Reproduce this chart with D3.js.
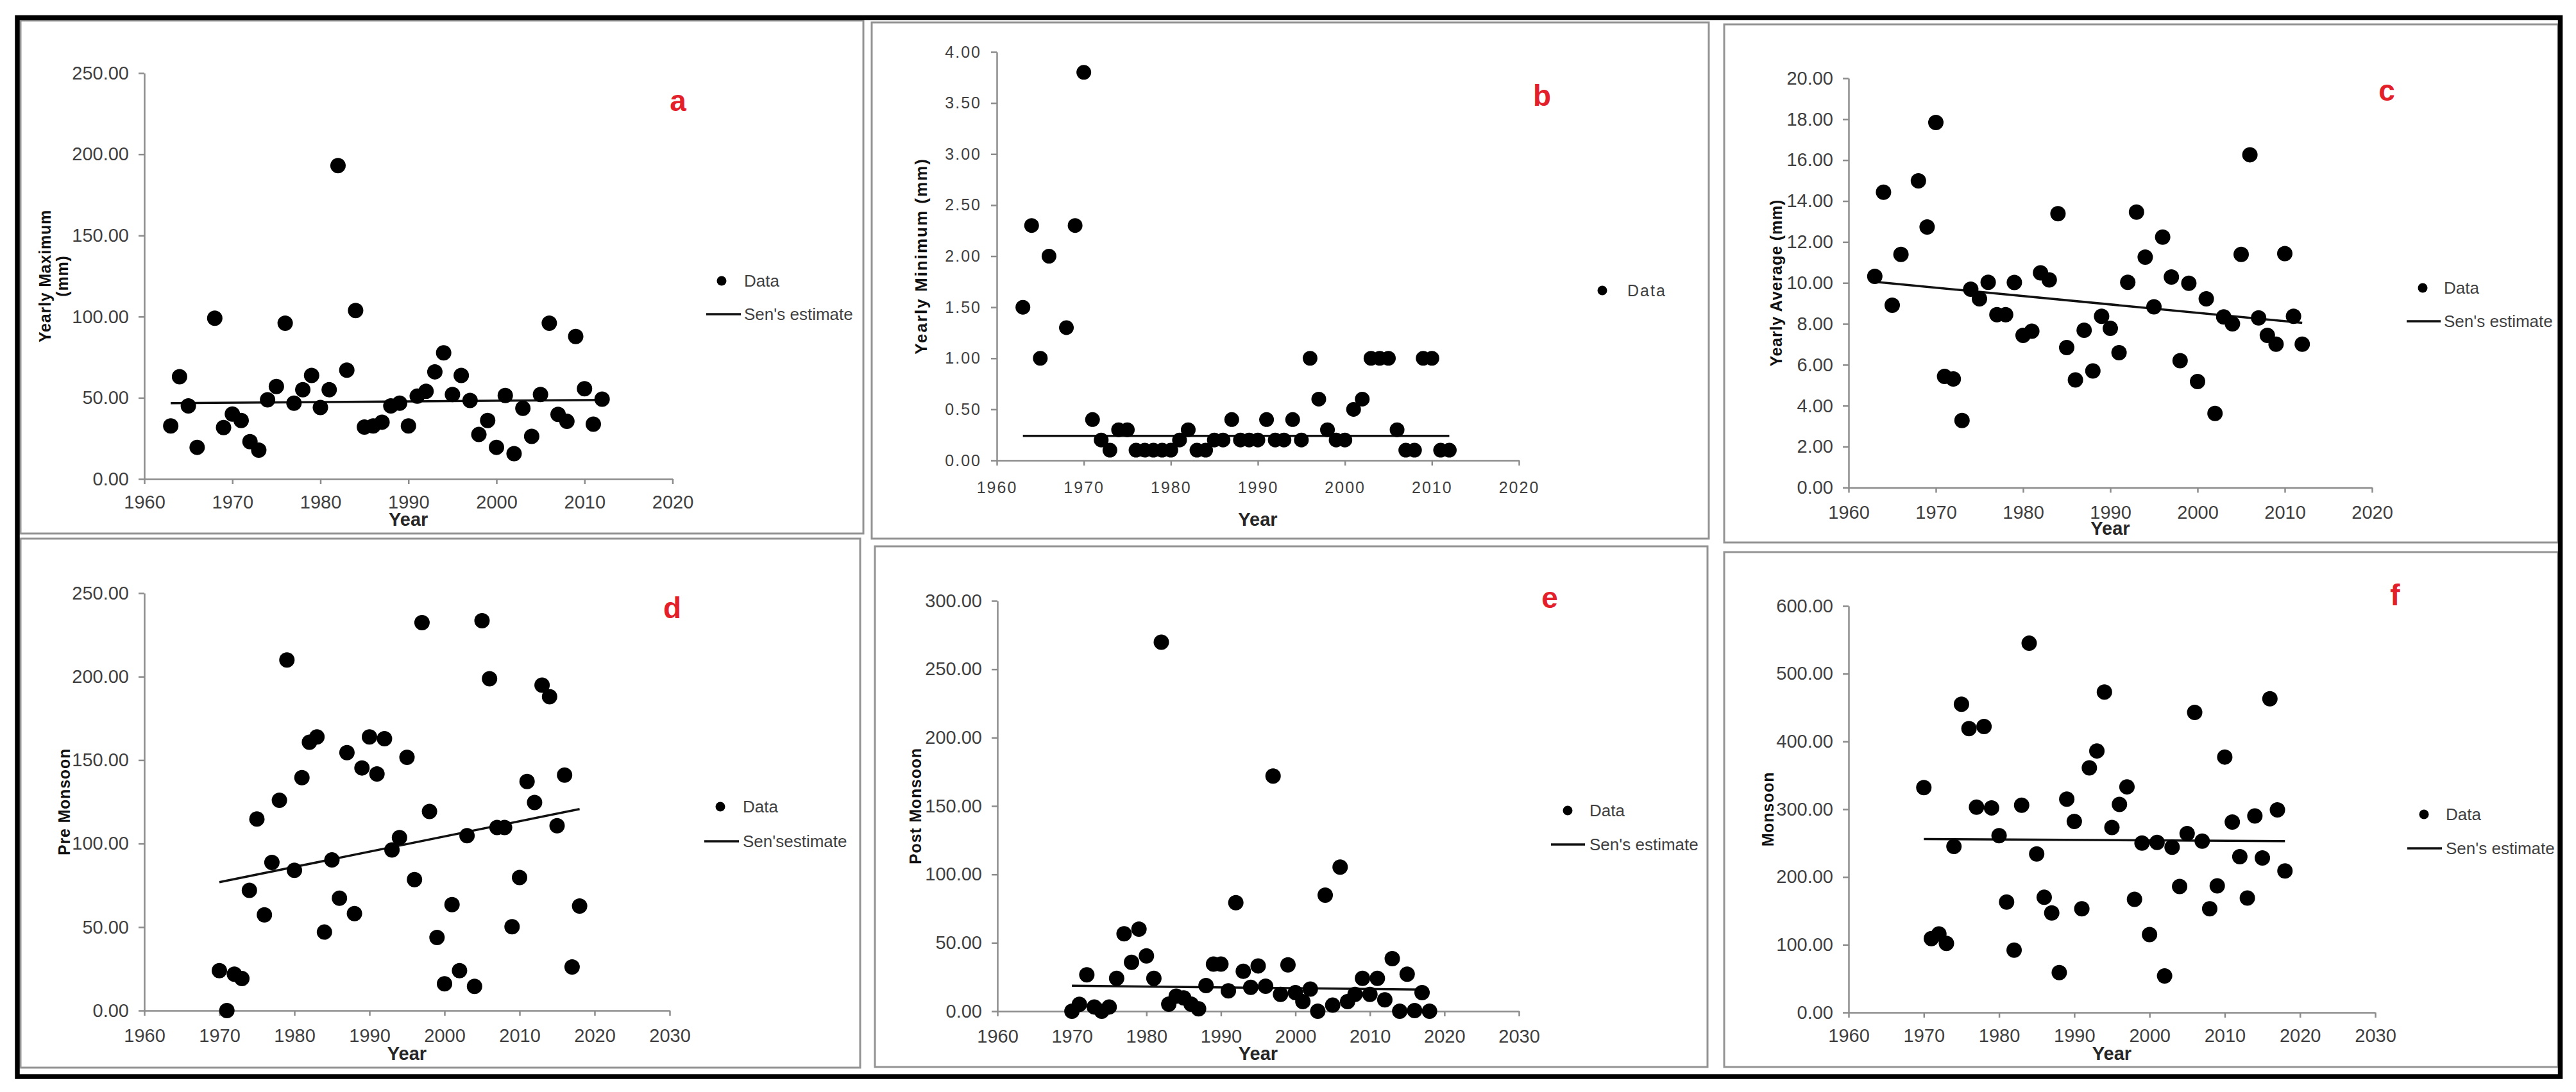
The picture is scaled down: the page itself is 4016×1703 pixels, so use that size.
<!DOCTYPE html>
<html lang="en">
<head>
  <meta charset="UTF-8">
  <title>Rainfall trend panels</title>
  <script src="https://d3js.org/d3.v7.min.js"></script>
  <style>
    * {
      margin: 0;
      padding: 0;
      box-sizing: border-box;
    }
    body {
      background: #fff;
    }
  </style>
</head>
<body>
  <div id="chart"></div>

  <script>
    // record years (1967 is missing in the daily series)
    const yearsDaily = [1963, 1964, 1965, 1966, 1968, 1969, 1970, 1971, 1972, 1973, 1974, 1975, 1976, 1977,
      1978, 1979, 1980, 1981, 1982, 1983, 1984, 1985, 1986, 1987, 1988, 1989, 1990, 1991, 1992, 1993,
      1994, 1995, 1996, 1997, 1998, 1999, 2000, 2001, 2002, 2003, 2004, 2005, 2006, 2007, 2008, 2009,
      2010, 2011, 2012];
    const yearsSeason = [1970, 1971, 1972, 1973, 1974, 1975, 1976, 1977, 1978, 1979, 1980, 1981, 1982,
      1983, 1984, 1985, 1986, 1987, 1988, 1989, 1990, 1991, 1992, 1993, 1994, 1995, 1996, 1997, 1998,
      1999, 2000, 2001, 2002, 2003, 2004, 2005, 2006, 2007, 2008, 2009, 2010, 2011, 2012, 2013, 2014,
      2015, 2016, 2017, 2018];

    const yearlyMax = [32.7, 63, 45, 19.5, 99, 31.7, 40, 36, 23, 17.8, 48.8, 57, 96, 46.7, 55, 63.8, 44, 55,
      193, 67, 103.8, 32, 32.7, 35, 45, 46.7, 32.7, 51, 54, 66, 77.7, 52, 63.8, 48.4, 27.4, 36, 19.5, 51.4,
      15.6, 43.5, 26.3, 52, 96, 39.8, 35.5, 87.8, 55.6, 33.8, 49.2];
    const yearlyMin = [1.5, 2.3, 1.0, 2.0, 1.3, 2.3, 3.8, 0.4, 0.2, 0.1, 0.3, 0.3, 0.1, 0.1, 0.1, 0.1, 0.1,
      0.2, 0.3, 0.1, 0.1, 0.2, 0.2, 0.4, 0.2, 0.2, 0.2, 0.4, 0.2, 0.2, 0.4, 0.2, 1.0, 0.6, 0.3, 0.2, 0.2,
      0.5, 0.6, 1.0, 1.0, 1.0, 0.3, 0.1, 0.1, 1.0, 1.0, 0.1, 0.1];
    const yearlyAvg = [10.32, 14.43, 8.91, 11.39, 14.99, 12.73, 17.84, 5.43, 5.31, 3.28, 9.69, 9.22, 10.03,
      8.45, 8.45, 10.02, 7.44, 7.64, 10.49, 10.15, 13.38, 6.84, 5.26, 7.69, 5.70, 8.37, 7.78, 6.59, 10.03,
      13.46, 11.26, 8.83, 12.24, 10.29, 6.20, 9.98, 5.18, 9.22, 3.62, 8.34, 8.0, 11.39, 16.26, 8.29, 7.44,
      7.01, 11.43, 8.37, 7.01];
    const preMonsoon = [23.9, 0, 21.8, 19.2, 72, 114.7, 57.3, 88.7, 126, 210, 84, 139.5, 160.7, 163.9, 47,
      90.2, 67.3, 154.5, 58.1, 145.3, 163.9, 141.7, 162.8, 96.2, 103.6, 151.7, 78.4, 232.3, 119.2, 43.8, 16,
      63.5, 23.9, 104.7, 14.5, 233.5, 198.7, 109.6, 109.6, 50.2, 79.7, 137.2, 124.6, 194.9, 188, 110.7, 141,
      26.1, 62.6];
    const postMonsoon = [0, 5, 26.6, 3.1, 0, 3.1, 24, 56.6, 35.7, 60, 40.4, 24, 269.8, 5.2, 11, 9.7, 5.2, 1.8,
      18.8, 34.4, 34.4, 14.9, 79.3, 29.2, 17.5, 33.1, 18.3, 171.9, 12.3, 33.9, 13.6, 7, 16.2, 0, 84.8, 4.4,
      105.4, 7, 12.3, 24, 12.3, 24, 8.3, 38.4, 0, 27.1, 0.5, 13.6, 0];
    const monsoon = [332, 109, 116, 102, 245, 455, 419, 303, 422, 302, 261, 163, 92, 306, 545, 234, 170, 147,
      59, 315, 282, 153, 361, 386, 473, 273, 307, 333, 167, 250, 115, 251, 54, 244, 186, 264, 443, 253, 153,
      187, 377, 281, 230, 169, 290, 228, 463, 299, 209];

    // Sen's estimate: start and end values of the fitted line
    const senYearsDaily = [1963, 2012];
    const senYearsSeason = [1970, 2018];
    const senYearsPost = [1970, 2017];
    const senMax = [46.7, 48.7];
    const senMin = [0.24, 0.24];
    const senAvg = [10.05, 8.05];
    const senPre = [76.9, 120.7];
    const senPost = [18.6, 15.8];
    const senMon = [256, 253];

    // tick labels
    const xTicksDaily = [1960, 1970, 1980, 1990, 2000, 2010, 2020];
    const xTicksSeason = [1960, 1970, 1980, 1990, 2000, 2010, 2020, 2030];
    const yTicksMax = [0, 50, 100, 150, 200, 250];
    const yTicksMin = [0, 0.5, 1, 1.5, 2, 2.5, 3, 3.5, 4];
    const yTicksAvg = [0, 2, 4, 6, 8, 10, 12, 14, 16, 18, 20];
    const yTicksPre = [0, 50, 100, 150, 200, 250];
    const yTicksPost = [0, 50, 100, 150, 200, 250, 300];
    const yTicksMon = [0, 100, 200, 300, 400, 500, 600];

    const NARROW = '"Liberation Sans Narrow", "Liberation Sans", Arial, sans-serif';
    const WIDE = '"Liberation Sans", Arial, sans-serif';

    const panels = [
      { letter: "a", box: [32, 32, 1346, 832], years: yearsDaily, vals: yearlyMax, senX: senYearsDaily, senY: senMax,
        xTicks: xTicksDaily, yTicks: yTicksMax, xr: [225, 1048.5], yr: [747, 114], pad: 17, yearY: 810,
        title: ["Yearly Maximum", "(mm)"], titleX: 70, letterPos: [1057, 173],
        legend: { dot: [1125, 438], line: [1101, 1155, 490], tx: 1160, sen: "Sen's estimate" } },
      { letter: "b", box: [1359, 35, 2664, 840], years: yearsDaily, vals: yearlyMin, senX: senYearsDaily, senY: senMin,
        xTicks: xTicksDaily, yTicks: yTicksMin, xr: [1554, 2368], yr: [718, 81], pad: 25, yearY: 810,
        title: ["Yearly Minimum (mm)"], titleX: 1436, letterPos: [2404, 165], wide: true,
        legend: { dot: [2498, 453], tx: 2537 } },
      { letter: "c", box: [2688, 38, 3988, 846], years: yearsDaily, vals: yearlyAvg, senX: senYearsDaily, senY: senAvg,
        xTicks: xTicksDaily, yTicks: yTicksAvg, xr: [2882, 3698], yr: [760.4, 122], pad: 20, yearY: 824,
        title: ["Yearly Average (mm)"], titleX: 2769, letterPos: [3721, 157],
        legend: { dot: [3777, 449], line: [3752, 3805, 501], tx: 3810, sen: "Sen's estimate" } },
      { letter: "d", box: [32, 840, 1341, 1665], years: yearsSeason, vals: preMonsoon, senX: senYearsSeason, senY: senPre,
        xTicks: xTicksSeason, yTicks: yTicksPre, xr: [225, 1044], yr: [1576, 925], pad: 20, yearY: 1643,
        title: ["Pre Monsoon"], titleX: 100, letterPos: [1048, 964],
        legend: { dot: [1123, 1258], line: [1098, 1152, 1312], tx: 1158, sen: "Sen'sestimate" } },
      { letter: "e", box: [1364, 852, 2662, 1664], years: yearsSeason, vals: postMonsoon, senX: senYearsPost, senY: senPost,
        xTicks: xTicksSeason, yTicks: yTicksPost, xr: [1555, 2368], yr: [1577, 937], pad: 20, yearY: 1643,
        title: ["Post Monsoon"], titleX: 1427, letterPos: [2416, 948],
        legend: { dot: [2444, 1264], line: [2418, 2471, 1317], tx: 2478, sen: "Sen's estimate" } },
      { letter: "f", box: [2688, 861, 3988, 1664], years: yearsSeason, vals: monsoon, senX: senYearsSeason, senY: senMon,
        xTicks: xTicksSeason, yTicks: yTicksMon, xr: [2882, 3703], yr: [1579, 945], pad: 17, yearY: 1643,
        title: ["Monsoon"], titleX: 2756, letterPos: [3734, 944],
        legend: { dot: [3779, 1270], line: [3753, 3807, 1323], tx: 3813, sen: "Sen's estimate" } }
    ];

    const svg = d3.select("#chart")
                  .append("svg")
                  .attr("width", 4016)
                  .attr("height", 1703)
                  .style("display", "block")
                  .style("background", "#fff");

    panels.forEach(p => {
      const g = svg.append("g");
      const [bx0, by0, bx1, by1] = p.box;

      g.append("rect")
       .attr("x", bx0)
       .attr("y", by0)
       .attr("width", bx1 - bx0)
       .attr("height", by1 - by0)
       .attr("fill", "#fff")
       .attr("stroke", "#939393")
       .attr("stroke-width", 3);

      const x = d3.scaleLinear()
                  .domain(d3.extent(p.xTicks))
                  .range(p.xr);
      const y = d3.scaleLinear()
                  .domain(d3.extent(p.yTicks))
                  .range(p.yr);

      const tickFont = p.wide ? WIDE : NARROW;
      const tickSize = p.wide ? 25 : 29;

      const yAxis = g.append("g")
                     .attr("transform", `translate(${p.xr[0]},0)`)
                     .call(d3.axisLeft(y)
                             .tickValues(p.yTicks)
                             .tickSize(9)
                             .tickSizeOuter(0)
                             .tickPadding(15)
                             .tickFormat(d3.format(".2f")));
      const xAxis = g.append("g")
                     .attr("transform", `translate(0,${p.yr[0]})`)
                     .call(d3.axisBottom(x)
                             .tickValues(p.xTicks)
                             .tickSize(8)
                             .tickSizeOuter(0)
                             .tickPadding(p.pad)
                             .tickFormat(d3.format("d")));

      [yAxis, xAxis].forEach(ax => {
        ax.attr("font-family", tickFont)
          .attr("font-size", tickSize)
          .style("letter-spacing", p.wide ? "2px" : null);
        ax.selectAll("text").attr("fill", "#3f3f3f");
        ax.selectAll("line").attr("stroke", "#8c8c8c").attr("stroke-width", 2.5);
        ax.select(".domain").attr("stroke", "#8c8c8c").attr("stroke-width", 2.5);
      });

      // x axis title
      g.append("text")
       .attr("x", (p.xr[0] + p.xr[1]) / 2)
       .attr("y", p.yearY)
       .attr("dy", "0.35em")
       .attr("text-anchor", "middle")
       .attr("font-family", NARROW)
       .attr("font-size", 29)
       .attr("font-weight", "bold")
       .attr("fill", "#262626")
       .text("Year");

      // y axis title (rotated)
      const cy = (p.yr[0] + p.yr[1]) / 2;
      p.title.forEach((t, i) => {
        g.append("text")
         .attr("transform", `translate(${p.titleX + i * 27},${cy}) rotate(-90)`)
         .attr("text-anchor", "middle")
         .attr("dy", "0.35em")
         .attr("font-family", WIDE)
         .attr("font-size", p.wide ? 26 : 25)
         .attr("font-weight", "bold")
         .style("letter-spacing", p.wide ? "2px" : "0.8px")
         .attr("fill", "#111")
         .text(t);
      });

      // Sen's estimate line
      const sen = p.senX.map((yr, i) => [yr, p.senY[i]]);
      g.append("path")
       .datum(sen)
       .attr("fill", "none")
       .attr("stroke", "#111")
       .attr("stroke-width", 3.5)
       .attr("d", d3.line().x(d => x(d[0])).y(d => y(d[1])));

      // data points
      g.selectAll(".dot")
       .data(p.years.map((yr, i) => ({ year: yr, v: p.vals[i] })))
       .enter()
       .append("circle")
       .attr("class", "dot")
       .attr("cx", d => x(d.year))
       .attr("cy", d => y(d.v))
       .attr("r", p.wide ? 11.5 : 12)
       .attr("fill", "#000");

      // panel letter
      g.append("text")
       .attr("x", p.letterPos[0])
       .attr("y", p.letterPos[1])
       .attr("text-anchor", "middle")
       .attr("font-family", NARROW)
       .attr("font-size", 46)
       .attr("font-weight", "bold")
       .attr("fill", "#e3202a")
       .text(p.letter);

      // legend
      const lg = p.legend;
      g.append("circle")
       .attr("cx", lg.dot[0])
       .attr("cy", lg.dot[1])
       .attr("r", 7.5)
       .attr("fill", "#000");
      g.append("text")
       .attr("x", lg.tx)
       .attr("y", lg.dot[1])
       .attr("dy", "0.35em")
       .attr("font-family", tickFont)
       .attr("font-size", p.wide ? 25 : 26)
       .style("letter-spacing", p.wide ? "2px" : null)
       .attr("fill", "#3f3f3f")
       .text("Data");
      if (lg.line) {
        g.append("line")
         .attr("x1", lg.line[0])
         .attr("x2", lg.line[1])
         .attr("y1", lg.line[2])
         .attr("y2", lg.line[2])
         .attr("stroke", "#111")
         .attr("stroke-width", 3.5);
        g.append("text")
         .attr("x", lg.tx)
         .attr("y", lg.line[2])
         .attr("dy", "0.35em")
         .attr("font-family", NARROW)
         .attr("font-size", 26)
         .attr("fill", "#3f3f3f")
         .text(lg.sen);
      }
    });

    // outer frame
    svg.append("rect")
       .attr("x", 27)
       .attr("y", 27.5)
       .attr("width", 3964.5)
       .attr("height", 1651.5)
       .attr("fill", "none")
       .attr("stroke", "#000")
       .attr("stroke-width", 7.5);
  </script>
</body>
</html>
